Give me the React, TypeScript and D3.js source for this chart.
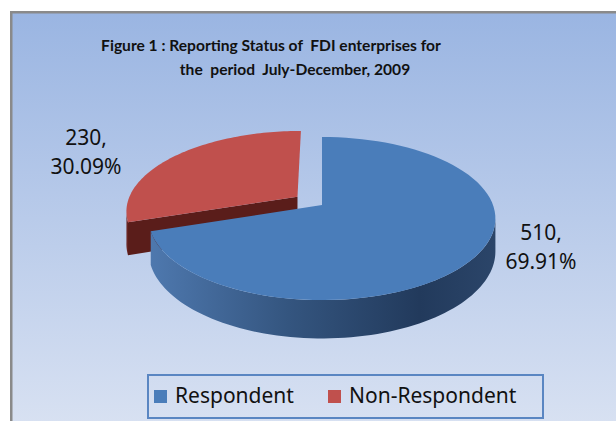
import React from 'react';
import * as d3 from 'd3';

// chart data
const categories = ['Respondent', 'Non-Respondent'];
const counts = [510, 230];
const shares = [69.91, 30.09];
const colors = ['#4a7dba', '#c0504d'];
const titleLines = ['Figure 1 : Reporting Status of  FDI enterprises for', 'the  period  July-December, 2009'];

const width = 616;
const height = 421;

// pseudo 3D projection of the pie
const cx = 322, cy = 205, rx = 171, ry = 79.3, P = 0.166, H = 32;
const explode = [0, 0.18];

const proj = (u: number, v: number, h: number): [number, number] => {
  const s = 1 / (1 + P * v);
  return [cx + rx * u * s, cy - ry * v * s + h * s];
};

const arcPts = (a0: number, a1: number, ou: number, ov: number, h: number, n = 80) =>
  d3.range(n + 1).map(i => {
    const a = a0 + ((a1 - a0) * i) / n;
    return proj(ou + Math.sin(a), ov + Math.cos(a), h);
  });

const line = d3.line<[number, number]>();

const App = () => {
  const arcs = d3.pie<number>().sort(null)(shares);
  const silhouette = Math.acos(-P); // where the rim stops facing the viewer

  const slices = arcs.map((a, i) => {
    const mid = (a.startAngle + a.endAngle) / 2;
    const ou = explode[i] * Math.sin(mid);
    const ov = explode[i] * Math.cos(mid);
    const vTop = proj(ou, ov, 0);
    const vBot = proj(ou, ov, H);
    const top = line([vTop, ...arcPts(a.startAngle, a.endAngle, ou, ov, 0)]) + 'Z';

    // front rim
    const s0 = Math.max(a.startAngle, silhouette);
    const s1 = Math.min(a.endAngle, 2 * Math.PI - silhouette);
    const side = s1 > s0
      ? line([...arcPts(s0, s1, ou, ov, 0), ...arcPts(s0, s1, ou, ov, H).reverse()]) + 'Z'
      : null;

    // radial cut face at the start edge (faces front when it lies in the left half)
    let cut: string | null = null;
    if (a.startAngle > Math.PI) {
      const e = [ou + Math.sin(a.startAngle), ov + Math.cos(a.startAngle)];
      cut = line([vTop, proj(e[0], e[1], 0), proj(e[0], e[1], H), vBot]) + 'Z';
    }
    return { i, top, side, cut };
  });

  const order = [1, 0];
  const sideFill = ['url(#blueSide)', '#6a2421'];
  const cutFill = ['#2b4770', '#5a1d1a'];

  const labels = [
    { x: 541, y: 240, lines: [`${counts[0]},`, `${shares[0].toFixed(2)}%`] },
    { x: 86, y: 145, lines: [`${counts[1]},`, `${shares[1].toFixed(2)}%`] },
  ];

  const font = '"Noto Sans", sans-serif';

  // legend layout
  const legX = 148, legY = 375, legW = 395, legH = 43;
  const legItems = [
    { sw: 154, tx: 175 },
    { sw: 328, tx: 349 },
  ];

  return (
    <div style={{ position: 'absolute', left: 0, top: 0 }}>
      <svg width={width} height={height} style={{ display: 'block' }}>
        <defs>
          <linearGradient id="bg" x1="0" y1="0" x2="0" y2="1">
            <stop offset="0%" stopColor="#9ab5e2" />
            <stop offset="100%" stopColor="#dce4f3" />
          </linearGradient>
          <linearGradient id="blueSide" x1="0" y1="0" x2="1" y2="0">
            <stop offset="0%" stopColor="#4e78ae" />
            <stop offset="40%" stopColor="#34557f" />
            <stop offset="78%" stopColor="#223a5c" />
            <stop offset="100%" stopColor="#2b4569" />
          </linearGradient>
        </defs>
        <rect x={0} y={0} width={width} height={height} fill="#ffffff" />
        <rect x={11.25} y={12.25} width={width + 20} height={height + 20} fill="url(#bg)" stroke="#8a8a8a" strokeWidth={2.5} />

        {titleLines.map((t, k) => (
          <text key={k} x={k === 0 ? 271 : 295} y={51 + k * 24} textAnchor="middle"
            fontFamily='Lato, sans-serif' fontWeight="bold" fontSize={15.6} fill="#111"
            style={{ whiteSpace: 'pre' }}>{t}</text>
        ))}

        {order.map(i => {
          const s = slices[i];
          return (
            <g key={i}>
              {s.side && <path d={s.side} fill={sideFill[i]} />}
              {s.cut && <path d={s.cut} fill={cutFill[i]} />}
              <path d={s.top} fill={colors[i]} />
            </g>
          );
        })}

        {labels.map((l, k) => (
          <text key={k} x={l.x} y={l.y} textAnchor="middle" fontFamily={font} fontSize={21} fill="#111">
            {l.lines.map((t, j) => (
              <tspan key={j} x={l.x} dy={j === 0 ? 0 : 29}>{t}</tspan>
            ))}
          </text>
        ))}

        <rect x={legX} y={legY} width={legW} height={legH} fill="none" stroke="#5a86c2" strokeWidth={2} />
        {categories.map((c, i) => (
          <g key={c}>
            <rect x={legItems[i].sw} y={390} width={13} height={13} fill={colors[i]} />
            <text x={legItems[i].tx} y={403} fontFamily={font} fontSize={21} fill="#111">{c}</text>
          </g>
        ))}
      </svg>
    </div>
  );
};

export default App;
